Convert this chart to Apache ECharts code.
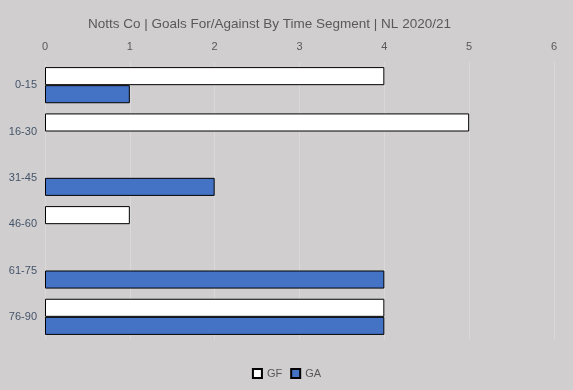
<!DOCTYPE html>
<html><head><meta charset="utf-8">
<script src="https://cdn.jsdelivr.net/npm/echarts@6/dist/echarts.min.js"></script>
<style>html,body{margin:0;padding:0;background:#d0cece;}#c{width:573px;height:390px;}</style>
</head><body><div id="c"></div>
<script>
var categories = ['0-15','16-30','31-45','46-60','61-75','76-90'];
var gf = [4,5,0,1,0,4];
var ga = [1,0,2,0,4,4];
function prep(arr){return arr.map(function(v){return v===0?{value:0,itemStyle:{borderWidth:0}}:v;});}
var chart = echarts.init(document.getElementById('c'));
var font = 'Liberation Sans, Arial, sans-serif';
chart.setOption({
  backgroundColor:'#d0cece',
  animation:false,
  title:{text:'Notts Co | Goals For/Against By Time Segment | NL 2020/21',left:83,top:12,
    textStyle:{fontFamily:font,fontSize:13.5,fontWeight:'normal',color:'#595959'}},
  grid:{left:45,right:19,top:62,bottom:50},
  legend:{top:363,left:'center',itemWidth:9,itemHeight:9,itemGap:8,
    textStyle:{fontFamily:font,fontSize:11,color:'#595959'},
    data:[{name:'GF',icon:'rect'},{name:'GA',icon:'rect'}]},
  xAxis:{type:'value',position:'top',min:0,max:6,interval:1,
    axisLine:{show:false},axisTick:{show:false},
    axisLabel:{fontFamily:font,fontSize:11,color:'#595959',margin:10},
    splitLine:{lineStyle:{color:'#d9d9d9',width:1}}},
  yAxis:{type:'category',inverse:true,data:categories,
    axisLine:{show:false},axisTick:{show:false},
    axisLabel:{fontFamily:font,fontSize:11,color:'#44546a',margin:8}},
  series:[
    {name:'GF',type:'bar',data:prep(gf),barGap:'0%',barCategoryGap:'22%',
      itemStyle:{color:'#ffffff',borderColor:'#000000',borderWidth:1}},
    {name:'GA',type:'bar',data:prep(ga),barGap:'0%',barCategoryGap:'22%',
      itemStyle:{color:'#4472c4',borderColor:'#000000',borderWidth:1}}
  ]
});
</script></body></html>
